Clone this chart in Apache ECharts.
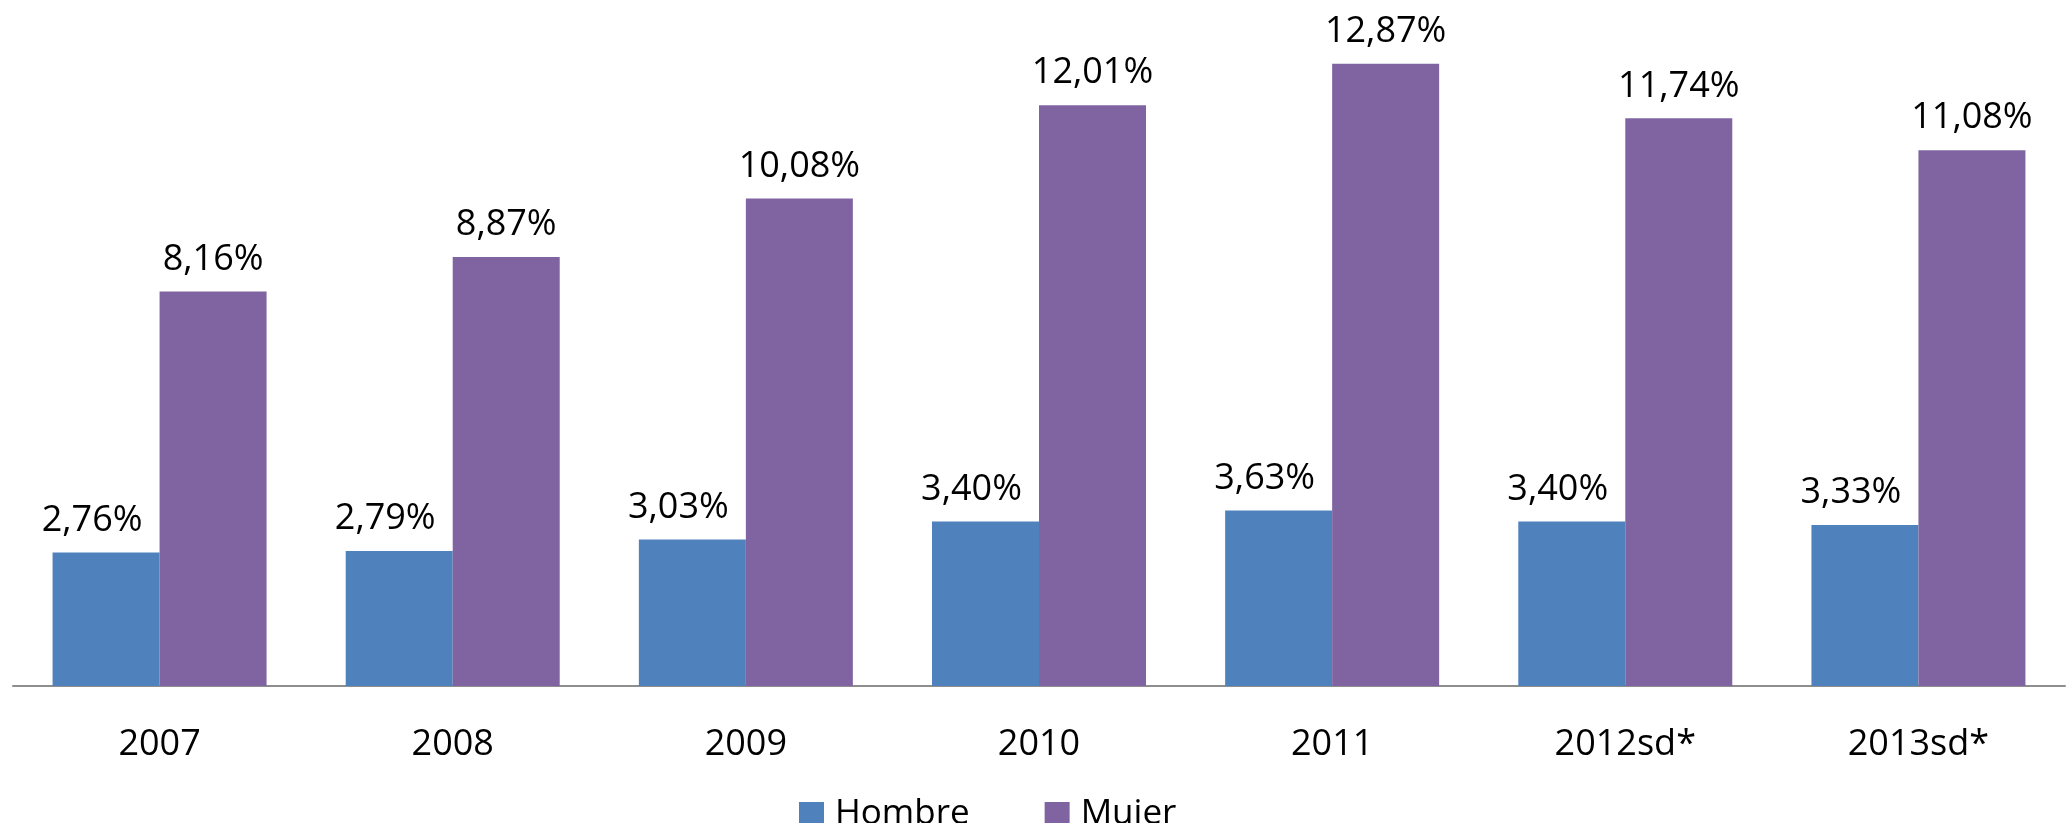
<!DOCTYPE html>
<html>
<head>
<meta charset="utf-8">
<script src="https://cdn.jsdelivr.net/npm/echarts@6/dist/echarts.min.js"></script>
<style>
html,body{margin:0;padding:0;background:#fff;}
#chart{width:2069px;height:823px;}
</style>
</head>
<body>
<div id="chart"></div>
<script>
const categories = ['2007', '2008', '2009', '2010', '2011', '2012sd*', '2013sd*'];
const hombre = [2.76, 2.79, 3.03, 3.40, 3.63, 3.40, 3.33];
const mujer = [8.16, 8.87, 10.08, 12.01, 12.87, 11.74, 11.08];
const seriesNames = ['Hombre', 'Mujer'];

const FONT = '"Open Sans", "Noto Sans", sans-serif';
const fmt = p => p.value.toFixed(2).replace('.', ',') + '%';

const chart = echarts.init(document.getElementById('chart'), null, {renderer: 'canvas'});
chart.setOption({
  animation: false,
  backgroundColor: '#ffffff',
  color: ['#4F81BD', '#8064A2'],
  grid: {left: 13, right: 4, top: 9, bottom: 137, containLabel: false},
  legend: {
    left: 794, top: 792,
    itemWidth: 25, itemHeight: 25, itemGap: 75,
    icon: 'rect',
    textStyle: {fontFamily: FONT, fontSize: 35, color: '#000', padding: [0, 0, 0, 6]},
    data: seriesNames
  },
  xAxis: {
    type: 'category',
    data: categories,
    axisLine: {lineStyle: {color: '#8E8E8E', width: 2}},
    axisTick: {show: false},
    axisLabel: {fontFamily: FONT, fontSize: 36, color: '#000', margin: 41}
  },
  yAxis: {
    type: 'value', min: 0, max: 14, interval: 2,
    show: false,
    splitLine: {show: false}
  },
  series: [
    {
      name: seriesNames[0], type: 'bar', data: hombre,
      barGap: '0%', barCategoryGap: '27%',
      label: {show: true, position: 'top', distance: 14, offset: [-14, 0],
        fontFamily: FONT, fontSize: 36, color: '#000', formatter: fmt}
    },
    {
      name: seriesNames[1], type: 'bar', data: mujer,
      barGap: '0%', barCategoryGap: '27%',
      label: {show: true, position: 'top', distance: 14,
        fontFamily: FONT, fontSize: 36, color: '#000', formatter: fmt}
    }
  ]
});
</script>
</body>
</html>
